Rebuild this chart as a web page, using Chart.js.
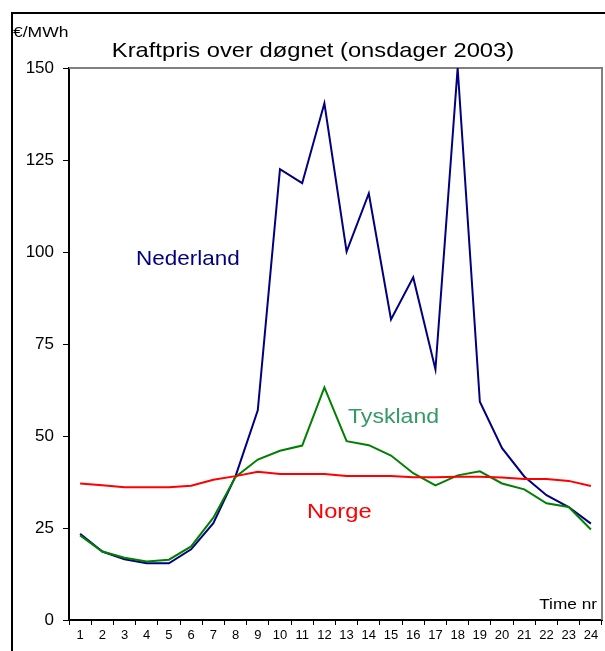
<!DOCTYPE html>
<html>
<head>
<meta charset="utf-8">
<script src="https://cdn.jsdelivr.net/npm/chart.js@4/dist/chart.umd.min.js"></script>
<style>
  html, body { margin: 0; padding: 0; background: #fff; }
  canvas { display: block; }
</style>
</head>
<body>
<canvas id="chart" width="605" height="651"></canvas>
<script>
// timer i døgnet (x-aksen)
var hours = ["1", "2", "3", "4", "5", "6", "7", "8", "9", "10", "11", "12",
             "13", "14", "15", "16", "17", "18", "19", "20", "21", "22", "23", "24"];

// €/MWh
var nederland = [23.4, 18.6, 16.5, 15.4, 15.4, 19.2, 26.3, 39.1, 57.0, 122.5, 118.7, 140.4,
                 100.1, 115.9, 81.7, 93.1, 68.1, 150.0, 59.3, 46.7, 39.0, 33.9, 30.7, 26.2];
var tyskland = [23.0, 18.6, 16.9, 15.9, 16.4, 20.0, 27.8, 38.9, 43.6, 46.0, 47.4, 63.2,
                48.6, 47.5, 44.7, 39.9, 36.6, 39.3, 40.4, 37.1, 35.5, 31.7, 30.7, 24.6];
var norge = [37.1, 36.6, 36.1, 36.1, 36.1, 36.5, 38.1, 39.1, 40.3, 39.7, 39.7, 39.7,
             39.1, 39.1, 39.1, 38.8, 38.8, 38.9, 38.9, 38.7, 38.3, 38.3, 37.8, 36.4];

var yMin = 0, yMax = 150, yStep = 25;

var FONT = "'Liberation Sans', Arial, sans-serif";

// tekst med litt horisontal strekk, som i originalen
function stretchedText(ctx, text, x, y, size, color, align, sx) {
    ctx.save();
    ctx.font = size + "px " + FONT;
    ctx.fillStyle = color;
    ctx.textBaseline = "alphabetic";
    var w = ctx.measureText(text).width * sx;
    var left = x;
    if (align === "center") left = x - w / 2;
    if (align === "right") left = x - w;
    ctx.translate(left, y);
    ctx.scale(sx, 1);
    ctx.textAlign = "left";
    ctx.fillText(text, 0, 0);
    ctx.restore();
}

var decorPlugin = {
    id: "decor",
    beforeDraw: function (chart) {
        var ctx = chart.ctx;
        ctx.save();
        ctx.fillStyle = "#fff";
        ctx.fillRect(0, 0, chart.width, chart.height);
        // ytre ramme
        ctx.strokeStyle = "#000";
        ctx.lineWidth = 2;
        ctx.beginPath();
        ctx.moveTo(12, chart.height + 2);
        ctx.lineTo(12, 13);
        ctx.lineTo(chart.width + 2, 13);
        ctx.stroke();
        ctx.restore();
    },
    beforeDatasetsDraw: function (chart) {
        var a = chart.chartArea, ctx = chart.ctx;
        ctx.save();
        ctx.strokeStyle = "#808080";
        ctx.lineWidth = 2;
        ctx.beginPath();
        ctx.moveTo(a.left, a.top);
        ctx.lineTo(a.right, a.top);
        ctx.lineTo(a.right, a.bottom);
        ctx.stroke();
        ctx.restore();
    },
    afterDraw: function (chart) {
        var ctx = chart.ctx;
        stretchedText(ctx, "Kraftpris over døgnet (onsdager 2003)", 313, 57, 21, "#000", "center", 1.13);
        stretchedText(ctx, "€/MWh", 13, 37, 14, "#000", "left", 1.25);
        stretchedText(ctx, "Nederland", 136, 265, 21, "#000080", "left", 1.07);
        stretchedText(ctx, "Tyskland", 348, 423, 21, "#339966", "left", 1.1);
        stretchedText(ctx, "Norge", 307, 518, 21, "#ff0000", "left", 1.13);
        stretchedText(ctx, "Time nr", 597, 609, 15, "#000", "right", 1.15);
    }
};

function lineSet(label, data, color) {
    return {
        label: label,
        data: data,
        borderColor: color,
        backgroundColor: color,
        borderWidth: 2,
        pointRadius: 0,
        tension: 0,
        fill: false,
        clip: 4
    };
}

new Chart(document.getElementById("chart"), {
    type: "line",
    data: {
        labels: hours,
        datasets: [
            lineSet("Norge", norge, "#ff0000"),
            lineSet("Tyskland", tyskland, "#008000"),
            lineSet("Nederland", nederland, "#000080")
        ]
    },
    options: {
        responsive: false,
        animation: false,
        devicePixelRatio: 1,
        layout: { padding: { left: 0, top: 68, right: 3, bottom: 0 } },
        plugins: {
            legend: { display: false },
            title: { display: false },
            tooltip: { enabled: false }
        },
        scales: {
            x: {
                type: "category",
                offset: true,
                grid: { offset: true, drawOnChartArea: false, tickLength: 5, color: "#000", lineWidth: 1 },
                border: { color: "#000", width: 2 },
                ticks: { color: "#000", font: { family: FONT, size: 13 }, padding: 3, maxRotation: 0, autoSkip: false },
                afterFit: function (scale) { scale.height = 31; }
            },
            y: {
                min: yMin,
                max: yMax,
                grid: { drawOnChartArea: false, tickLength: 6, color: "#000", lineWidth: 1 },
                border: { color: "#000", width: 2 },
                ticks: { stepSize: yStep, color: "#000", font: { family: FONT, size: 17 }, padding: 9 },
                afterFit: function (scale) { scale.width = 69; }
            }
        }
    },
    plugins: [decorPlugin]
});
</script>
</body>
</html>
